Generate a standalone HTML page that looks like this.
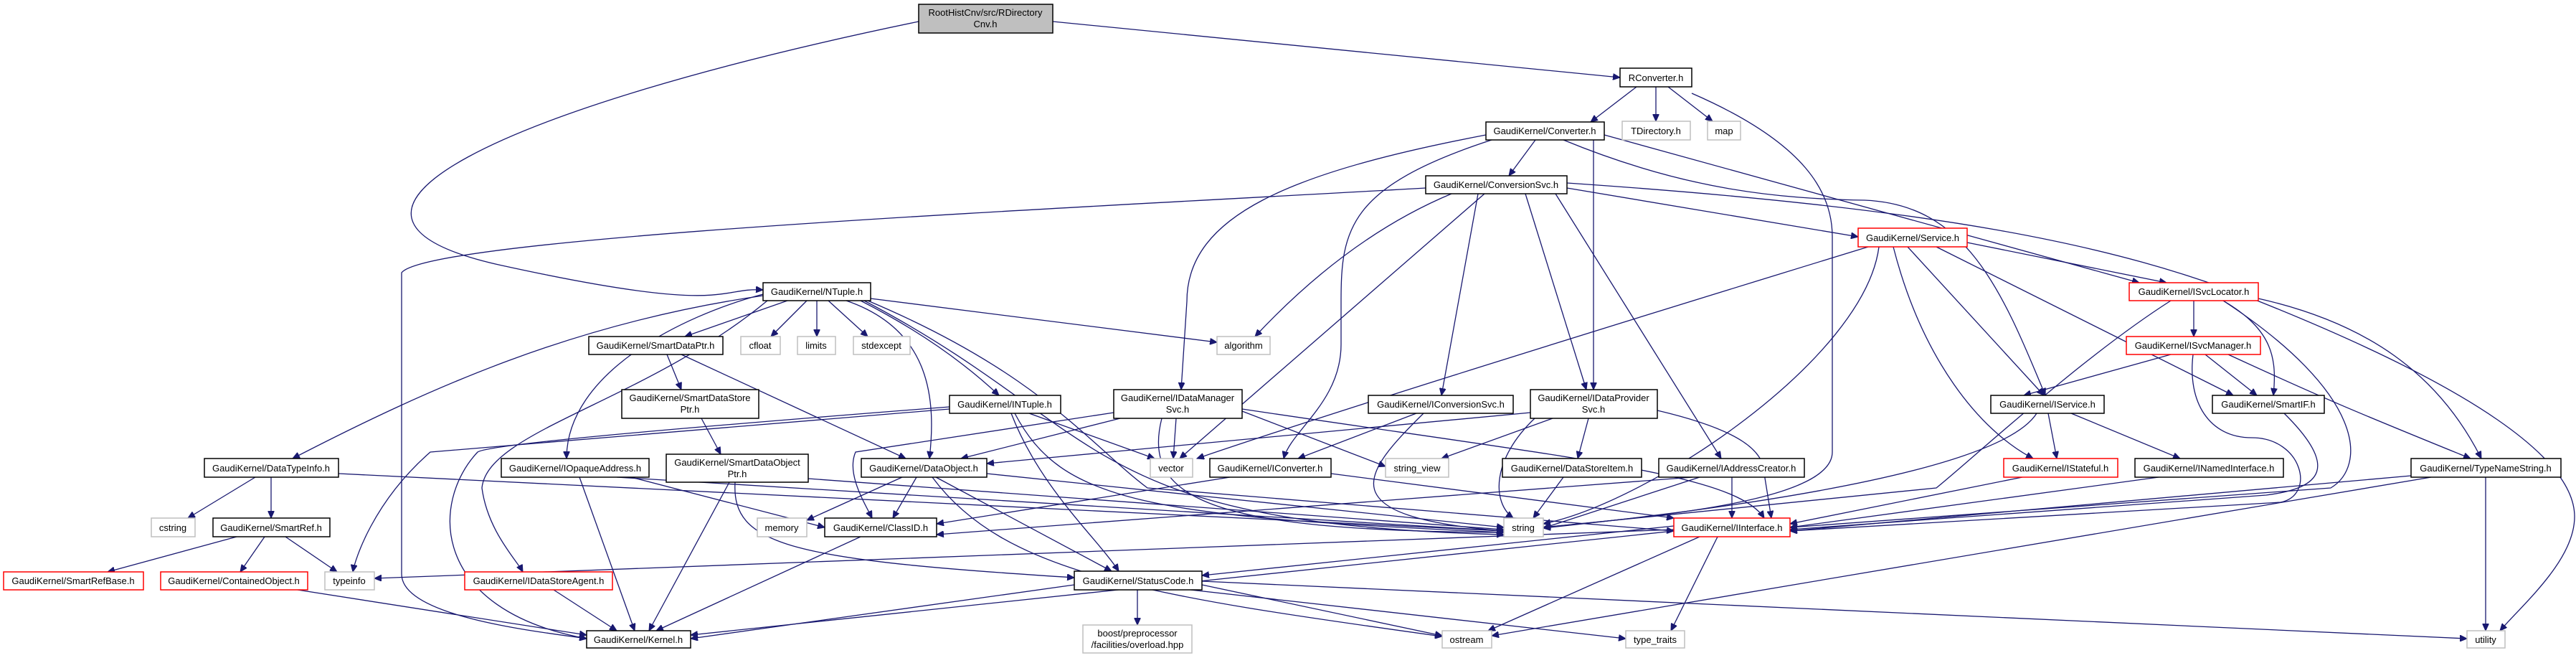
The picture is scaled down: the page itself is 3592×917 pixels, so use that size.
<!DOCTYPE html>
<html><head><meta charset="utf-8"><style>
html,body{margin:0;padding:0;background:#fff;}
svg{display:block;}
text{font-family:"Liberation Sans",Arial,sans-serif;font-size:13px;fill:#000;text-anchor:middle;}
.b{fill:#fff;stroke:#000;stroke-width:1.5;}
.r{fill:#fff;stroke:#ff0000;stroke-width:1.5;}
.g{fill:#fff;stroke:#bfbfbf;stroke-width:1.5;}
.e path{fill:none;stroke:#191970;stroke-width:1.3;marker-end:url(#a);}
</style></head><body>
<svg width="3592" height="917" viewBox="0 0 3592 917" xmlns="http://www.w3.org/2000/svg">
<defs><marker id="a" markerUnits="userSpaceOnUse" markerWidth="11" markerHeight="9" refX="10" refY="4.5" orient="auto"><path d="M0,0 L10,4.5 L0,9 z" fill="#191970" stroke="#191970"/></marker></defs>
<g class="e">
<path d="M1281,30 C700,150 380,300 700,370 S1000,400 1064,404"/>
<path d="M1468,30 L2259,108"/>
<path d="M2282,121 L2218,170"/>
<path d="M2309,121 L2309,169"/>
<path d="M2326,121 L2388,169"/>
<path d="M2359,130 C2520,200 2555,270 2555,330 L2555,630 C2555,700 2300,720 2152,735"/>
<path d="M2141,195 L2104,245"/>
<path d="M2072,188 C1800,240 1655,300 1655,420 L1647,543"/>
<path d="M2080,195 C1880,260 1870,320 1870,420 L1870,480 C1870,560 1800,600 1790,639"/>
<path d="M2222,195 L2222,543"/>
<path d="M2180,195 C2350,265 2480,277 2600,279 C2740,285 2790,400 2852,551"/>
<path d="M2237,188 L2983,394"/>
<path d="M1988,262 C1500,290 600,330 560,380 L560,800 C560,860 750,880 818,890"/>
<path d="M2024,270 Q1880,330 1750,469"/>
<path d="M2070,270 L1645,639"/>
<path d="M2061,270 L2010,551"/>
<path d="M2127,270 L2212,543"/>
<path d="M2169,270 L2400,639"/>
<path d="M2185,262 L2591,330"/>
<path d="M2185,255 C2700,290 2950,340 3150,420 C3450,540 3590,640 3590,720 C3590,780 3520,840 3486,879"/>
<path d="M2743,338 L3021,394"/>
<path d="M2660,344 L2850,551"/>
<path d="M2640,344 C2680,500 2760,600 2835,639"/>
<path d="M2700,344 L3114,551"/>
<path d="M2605,344 Q1900,560 1669,639"/>
<path d="M2620,344 C2600,500 2300,700 2152,730"/>
<path d="M3059,419 L3059,469"/>
<path d="M3100,419 C3170,460 3175,500 3170,551"/>
<path d="M3149,416 C3300,450 3400,520 3460,639"/>
<path d="M3100,419 C3300,550 3300,650 3250,680 L2496,735"/>
<path d="M3027,419 C2900,500 2750,640 2700,680 L2152,735"/>
<path d="M3027,494 L2822,551"/>
<path d="M3075,494 L3147,551"/>
<path d="M3107,494 C3250,560 3300,580 3445,639"/>
<path d="M3058,494 C3050,560 3080,610 3140,610 C3210,610 3230,690 3180,700 L2496,740"/>
<path d="M2856,576 L2868,639"/>
<path d="M2888,576 L3040,639"/>
<path d="M2840,576 C2780,670 2300,720 2152,736"/>
<path d="M2820,665 L2496,730"/>
<path d="M3010,665 L2496,735"/>
<path d="M3185,576 C3260,650 3240,680 3160,690 L2496,738"/>
<path d="M3362,663 L2496,740"/>
<path d="M3390,665 L2080,886"/>
<path d="M3466,665 L3466,879"/>
<path d="M1676,810 L3440,890"/>
<path d="M1676,815 L2011,886"/>
<path d="M1660,822 L2267,890"/>
<path d="M1586,822 L1586,871"/>
<path d="M1498,815 L963,890"/>
<path d="M2334,733 L1676,802"/>
<path d="M2370,748 L2075,879"/>
<path d="M2395,748 L2330,879"/>
<path d="M2334,740 L963,885"/>
<path d="M2334,738 L522,806"/>
<path d="M1258,665 L1125,725"/>
<path d="M1278,665 L1245,722"/>
<path d="M1305,665 L1550,796"/>
<path d="M1300,665 C1400,800 1600,830 2011,887"/>
<path d="M1376,660 L2097,735"/>
<path d="M1200,748 L915,879"/>
<path d="M1715,665 L1306,730"/>
<path d="M1856,660 L2334,722"/>
<path d="M1975,576 L1810,639"/>
<path d="M1985,576 C1900,660 1850,720 2097,740"/>
<path d="M2134,575 L1376,646"/>
<path d="M2165,583 L2010,639"/>
<path d="M2215,583 L2200,639"/>
<path d="M2140,583 C2080,640 2080,700 2110,722"/>
<path d="M2311,572 C2430,600 2460,630 2460,660 L2470,722"/>
<path d="M2180,665 L2138,722"/>
<path d="M2370,665 L2152,736"/>
<path d="M2415,665 L2415,722"/>
<path d="M2360,665 L1306,745"/>
<path d="M1562,583 L1340,639"/>
<path d="M1553,575 L1193,630 C1180,660 1205,700 1216,722"/>
<path d="M1640,583 L1636,639"/>
<path d="M1620,583 C1590,700 1700,740 2097,742"/>
<path d="M1732,573 L1932,650"/>
<path d="M1732,570 C2200,640 2420,660 2460,722"/>
<path d="M1435,576 L1610,639"/>
<path d="M1410,576 C1450,680 1530,750 1560,796"/>
<path d="M1415,576 C1480,700 1600,720 2097,742"/>
<path d="M1324,567 C900,600 680,620 666,630 C600,700 600,850 818,890"/>
<path d="M1324,570 L600,630 C520,700 495,780 492,797"/>
<path d="M1064,412 C800,450 600,540 408,639"/>
<path d="M1098,419 L955,469"/>
<path d="M1125,419 L1075,469"/>
<path d="M1139,419 L1139,469"/>
<path d="M1155,419 L1210,469"/>
<path d="M1214,416 L1697,477"/>
<path d="M1180,419 C1300,460 1305,560 1296,639"/>
<path d="M1200,419 C1300,470 1360,520 1393,551"/>
<path d="M1064,410 C950,440 790,520 790,639"/>
<path d="M1070,419 C900,560 680,600 672,680 C680,740 720,780 729,797"/>
<path d="M1205,419 C1550,600 1500,730 2097,745"/>
<path d="M1210,419 C1450,520 1520,620 1600,680 L2334,740"/>
<path d="M930,494 L950,543"/>
<path d="M950,494 L1263,639"/>
<path d="M978,583 L1005,633"/>
<path d="M1017,672 L905,879"/>
<path d="M1025,672 C1020,760 1100,780 1498,805"/>
<path d="M1127,667 L2097,738"/>
<path d="M356,665 L262,722"/>
<path d="M378,665 L378,722"/>
<path d="M472,660 L2097,740"/>
<path d="M330,748 L150,797"/>
<path d="M369,748 L335,797"/>
<path d="M398,748 L470,797"/>
<path d="M415,822 L818,885"/>
<path d="M772,822 L860,879"/>
<path d="M808,665 L885,879"/>
<path d="M860,665 L2097,740"/>
<path d="M880,665 L1150,735"/>
</g>
<g>
<rect x="1281" y="6" width="187" height="40" fill="#bfbfbf" stroke="#000" stroke-width="1.5"/><text x="1374" y="22">RootHistCnv/src/RDirectory</text><text x="1374" y="38">Cnv.h</text>
<rect class="b" x="2259" y="95" width="100" height="26"/><text x="2309" y="113">RConverter.h</text>
<rect class="b" x="2072" y="170" width="165" height="25"/><text x="2154" y="187">GaudiKernel/Converter.h</text>
<rect class="g" x="2262" y="169" width="95" height="26"/><text x="2309" y="187">TDirectory.h</text>
<rect class="g" x="2381" y="169" width="46" height="26"/><text x="2404" y="187">map</text>
<rect class="b" x="1988" y="245" width="197" height="25"/><text x="2086" y="262">GaudiKernel/ConversionSvc.h</text>
<rect class="r" x="2591" y="318" width="152" height="26"/><text x="2667" y="336">GaudiKernel/Service.h</text>
<rect class="b" x="1064" y="394" width="150" height="25"/><text x="1139" y="411">GaudiKernel/NTuple.h</text>
<rect class="r" x="2969" y="394" width="180" height="25"/><text x="3059" y="411">GaudiKernel/ISvcLocator.h</text>
<rect class="b" x="821" y="469" width="187" height="25"/><text x="914" y="486">GaudiKernel/SmartDataPtr.h</text>
<rect class="g" x="1033" y="469" width="55" height="25"/><text x="1060" y="486">cfloat</text>
<rect class="g" x="1112" y="469" width="53" height="25"/><text x="1138" y="486">limits</text>
<rect class="g" x="1190" y="469" width="79" height="25"/><text x="1229" y="486">stdexcept</text>
<rect class="g" x="1697" y="469" width="74" height="25"/><text x="1734" y="486">algorithm</text>
<rect class="r" x="2965" y="469" width="187" height="25"/><text x="3058" y="486">GaudiKernel/ISvcManager.h</text>
<rect class="b" x="867" y="543" width="191" height="40"/><text x="962" y="559">GaudiKernel/SmartDataStore</text><text x="962" y="575">Ptr.h</text>
<rect class="b" x="1324" y="551" width="155" height="25"/><text x="1401" y="568">GaudiKernel/INTuple.h</text>
<rect class="b" x="1553" y="543" width="179" height="40"/><text x="1642" y="559">GaudiKernel/IDataManager</text><text x="1642" y="575">Svc.h</text>
<rect class="b" x="1908" y="551" width="202" height="25"/><text x="2009" y="568">GaudiKernel/IConversionSvc.h</text>
<rect class="b" x="2134" y="543" width="177" height="40"/><text x="2222" y="559">GaudiKernel/IDataProvider</text><text x="2222" y="575">Svc.h</text>
<rect class="b" x="2776" y="551" width="158" height="25"/><text x="2855" y="568">GaudiKernel/IService.h</text>
<rect class="b" x="3085" y="551" width="156" height="25"/><text x="3163" y="568">GaudiKernel/SmartIF.h</text>
<rect class="b" x="285" y="639" width="187" height="26"/><text x="378" y="657">GaudiKernel/DataTypeInfo.h</text>
<rect class="b" x="699" y="639" width="206" height="26"/><text x="802" y="657">GaudiKernel/IOpaqueAddress.h</text>
<rect class="b" x="929" y="633" width="198" height="39"/><text x="1028" y="649">GaudiKernel/SmartDataObject</text><text x="1028" y="665">Ptr.h</text>
<rect class="b" x="1201" y="639" width="175" height="26"/><text x="1288" y="657">GaudiKernel/DataObject.h</text>
<rect class="g" x="1604" y="639" width="59" height="26"/><text x="1633" y="657">vector</text>
<rect class="b" x="1687" y="639" width="169" height="26"/><text x="1771" y="657">GaudiKernel/IConverter.h</text>
<rect class="g" x="1932" y="639" width="88" height="26"/><text x="1976" y="657">string_view</text>
<rect class="b" x="2095" y="639" width="194" height="26"/><text x="2192" y="657">GaudiKernel/DataStoreItem.h</text>
<rect class="b" x="2313" y="639" width="203" height="26"/><text x="2414" y="657">GaudiKernel/IAddressCreator.h</text>
<rect class="r" x="2794" y="639" width="159" height="26"/><text x="2873" y="657">GaudiKernel/IStateful.h</text>
<rect class="b" x="2977" y="639" width="207" height="26"/><text x="3080" y="657">GaudiKernel/INamedInterface.h</text>
<rect class="b" x="3362" y="639" width="209" height="26"/><text x="3466" y="657">GaudiKernel/TypeNameString.h</text>
<rect class="g" x="211" y="722" width="61" height="26"/><text x="241" y="740">cstring</text>
<rect class="b" x="297" y="722" width="163" height="26"/><text x="378" y="740">GaudiKernel/SmartRef.h</text>
<rect class="g" x="1056" y="722" width="69" height="26"/><text x="1090" y="740">memory</text>
<rect class="b" x="1150" y="722" width="156" height="26"/><text x="1228" y="740">GaudiKernel/ClassID.h</text>
<rect class="g" x="2097" y="722" width="55" height="26"/><text x="2124" y="740">string</text>
<rect class="r" x="2334" y="722" width="162" height="26"/><text x="2415" y="740">GaudiKernel/IInterface.h</text>
<rect class="r" x="5" y="797" width="195" height="25"/><text x="102" y="814">GaudiKernel/SmartRefBase.h</text>
<rect class="r" x="224" y="797" width="205" height="25"/><text x="326" y="814">GaudiKernel/ContainedObject.h</text>
<rect class="g" x="453" y="797" width="69" height="25"/><text x="487" y="814">typeinfo</text>
<rect class="r" x="648" y="797" width="206" height="25"/><text x="751" y="814">GaudiKernel/IDataStoreAgent.h</text>
<rect class="b" x="1498" y="796" width="178" height="26"/><text x="1587" y="814">GaudiKernel/StatusCode.h</text>
<rect class="g" x="1510" y="871" width="152" height="39"/><text x="1586" y="887">boost/preprocessor</text><text x="1586" y="903">/facilities/overload.hpp</text>
<rect class="b" x="818" y="879" width="145" height="24"/><text x="890" y="896">GaudiKernel/Kernel.h</text>
<rect class="g" x="2011" y="879" width="69" height="24"/><text x="2045" y="896">ostream</text>
<rect class="g" x="2267" y="879" width="82" height="24"/><text x="2308" y="896">type_traits</text>
<rect class="g" x="3440" y="879" width="53" height="24"/><text x="3466" y="896">utility</text>
</g>
</svg>
</body></html>
